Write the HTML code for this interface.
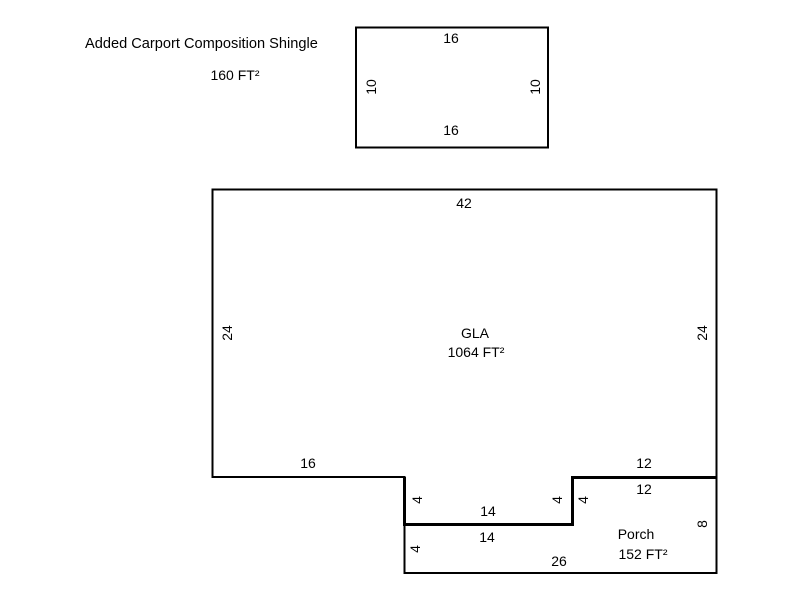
<!DOCTYPE html>
<html><head><style>body{margin:0;background:#fff}</style></head><body>
<svg width="800" height="600" xmlns="http://www.w3.org/2000/svg" font-family="Liberation Sans, Arial, sans-serif" font-size="14" fill="#000">
<rect x="356" y="27.5" width="192" height="120" fill="none" stroke="#000" stroke-width="2"/>
<text x="451" y="43" text-anchor="middle">16</text>
<text x="451" y="135" text-anchor="middle">16</text>
<text transform="translate(376,87) rotate(-90)" text-anchor="middle">10</text>
<text transform="translate(540,87) rotate(-90)" text-anchor="middle">10</text>
<text x="85" y="48" font-size="14.6">Added Carport Composition Shingle</text>
<text x="235" y="80" text-anchor="middle">160 FT²</text>
<path d="M212.5 477 V189.5 H716.5 V477 H572.5 V524.5 H404.5 V477 Z" fill="none" stroke="#000" stroke-width="2"/>
<path d="M404.5 524.5 V573 H716.5 V477.5" fill="none" stroke="#000" stroke-width="2"/>
<path d="M404.5 477 V524.5 H572.5 V477.5 H716.5" fill="none" stroke="#000" stroke-width="3"/>
<text x="464" y="208" text-anchor="middle">42</text>
<text x="475" y="338" text-anchor="middle">GLA</text>
<text x="476" y="357" text-anchor="middle">1064 FT²</text>
<text transform="translate(232,333) rotate(-90)" text-anchor="middle">24</text>
<text transform="translate(707,333) rotate(-90)" text-anchor="middle">24</text>
<text x="308" y="468" text-anchor="middle">16</text>
<text x="644" y="468" text-anchor="middle">12</text>
<text x="644" y="494" text-anchor="middle">12</text>
<text x="488" y="516" text-anchor="middle">14</text>
<text x="487" y="542" text-anchor="middle">14</text>
<text x="559" y="566" text-anchor="middle">26</text>
<text transform="translate(422,500) rotate(-90)" text-anchor="middle">4</text>
<text transform="translate(562,500) rotate(-90)" text-anchor="middle">4</text>
<text transform="translate(588,500) rotate(-90)" text-anchor="middle">4</text>
<text transform="translate(420,549) rotate(-90)" text-anchor="middle">4</text>
<text transform="translate(707,524) rotate(-90)" text-anchor="middle">8</text>
<text x="636" y="539" text-anchor="middle">Porch</text>
<text x="643" y="559" text-anchor="middle">152 FT²</text>
</svg>
</body></html>
